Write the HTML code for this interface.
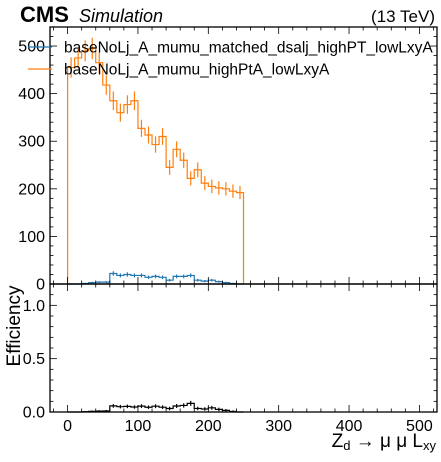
<!DOCTYPE html>
<html><head><meta charset="utf-8"><style>
html,body{margin:0;padding:0;background:#fff;}
svg{display:block;font-family:"Liberation Sans",sans-serif;}
</style></head><body>
<svg id="c" width="441" height="462" xmlns="http://www.w3.org/2000/svg"></svg>
<script>
const binEdgesStart = 0;
const binWidth = 10;
const totalCounts = [455,475,490,495,465,418,385,360,377,385,327,313,293,310,245,283,260,222,240,212,205,202,200,195,192];
const matchedCounts = [0,0,1,3,4,4,22,18,20,18,18,14,16,14,8,16,16,18,8,6,8,5,3,1,0];
const xTicks = [0,100,200,300,400,500];
const yTopTicks = [0,100,200,300,400,500];
const yBotTicks = [0,0.5,1.0];
const yBotLabels = ["0.0","0.5","1.0"];

const NS="http://www.w3.org/2000/svg";
const svg=document.getElementById('c');
const L=50,R=437,T1=27,B1=284,B2=412;
const X=v=>L+(v+25)/550*(R-L);
const Y1=v=>B1-v/540*(B1-T1);
const Y2=v=>B2-v/1.2*(B2-B1);
function mk(tag,attrs,parent){const e=document.createElementNS(NS,tag);for(const k in attrs)e.setAttribute(k,attrs[k]);(parent||svg).appendChild(e);return e;}

function hist(vals,Y,color,name,errs){
  let d='M'+X(binEdgesStart)+','+Y(0);
  vals.forEach((v,i)=>{const x0=X(binEdgesStart+i*binWidth),x1=X(binEdgesStart+(i+1)*binWidth);d+=' L'+x0+','+Y(v)+' L'+x1+','+Y(v);});
  d+=' L'+X(binEdgesStart+vals.length*binWidth)+','+Y(0);
  const p=mk('path',{d:d,fill:'none',stroke:color,'stroke-width':1.2});
  
  
  vals.forEach((v,i)=>{
    const e=errs[i]; if(v<=0) return;
    const xc=X(binEdgesStart+(i+0.5)*binWidth);
    const l=mk('line',{x1:xc,x2:xc,y1:Y(v-e),y2:Y(v+e),stroke:color,'stroke-width':1.2});
    
    
  });
}
hist(totalCounts,Y1,'#ff7f0e','total-histogram',totalCounts.map(v=>Math.sqrt(v)));
hist(matchedCounts,Y1,'#1f77b4','matched-histogram',matchedCounts.map(v=>Math.sqrt(v)));
const eff=matchedCounts.map((m,i)=>totalCounts[i]>0?m/totalCounts[i]:0);
hist(eff,Y2,'#000','efficiency-histogram',eff.map((e,i)=>totalCounts[i]>0?Math.sqrt(e*(1-e)/totalCounts[i])+0.005:0));

[[T1,B1,'top-panel-frame'],[B1,B2,'bottom-panel-frame']].forEach(([t,b,n])=>{
  const r=mk('rect',{x:L,y:t,width:R-L,height:b-t,fill:'none',stroke:'#000','stroke-width':1.3});
  
});
for(let v=-20;v<=520;v+=20){const x=X(v);const major=v%100===0;const len=major?7:3.5;
  [[T1,1],[B1,-1],[B1,1],[B2,-1]].forEach(([y,s])=>mk('line',{x1:x,x2:x,y1:y,y2:y+s*len,stroke:'#000','stroke-width':0.8}));}
xTicks.forEach(v=>{const t=mk('text',{x:X(v),y:B2+19,'font-size':16,'text-anchor':'middle'});t.textContent=v;});
for(let v=0;v<=540;v+=20){const y=Y1(v);const major=v%100===0;const len=major?7:3.5;
  mk('line',{x1:L,x2:L+len,y1:y,y2:y,stroke:'#000','stroke-width':0.8});mk('line',{x1:R,x2:R-len,y1:y,y2:y,stroke:'#000','stroke-width':0.8});}
yTopTicks.forEach(v=>{const t=mk('text',{x:L-5,y:Y1(v)+5.5,'font-size':16,'text-anchor':'end'});t.textContent=v;});
for(let k=0;k<=12;k++){const v=k*0.1;const y=Y2(v);const major=k%5===0;const len=major?7:3.5;
  mk('line',{x1:L,x2:L+len,y1:y,y2:y,stroke:'#000','stroke-width':0.8});mk('line',{x1:R,x2:R-len,y1:y,y2:y,stroke:'#000','stroke-width':0.8});}
yBotTicks.forEach((v,i)=>{const t=mk('text',{x:L-5,y:Y2(v)+5.5,'font-size':16,'text-anchor':'end'});t.textContent=yBotLabels[i];});
</script>
<svg width="441" height="462" style="position:absolute;left:0;top:0" xmlns="http://www.w3.org/2000/svg">
<text x="20" y="22" font-family="Liberation Sans,sans-serif" font-size="22" font-weight="bold">CMS</text>
<text x="79" y="22" font-family="Liberation Sans,sans-serif" font-size="18" font-style="italic">Simulation</text>
<text x="435" y="22" font-family="Liberation Sans,sans-serif" font-size="17" text-anchor="end">(13 TeV)</text>
<line x1="28" x2="52" y1="47" y2="47" stroke="#1f77b4" stroke-width="1.3"/>
<text x="64" y="52.5" font-family="Liberation Sans,sans-serif" font-size="15.5">baseNoLj_A_mumu_matched_dsalj_highPT_lowLxyA</text>
<line x1="28" x2="52" y1="69" y2="69" stroke="#ff7f0e" stroke-width="1.3"/>
<text x="64" y="74.5" font-family="Liberation Sans,sans-serif" font-size="15.5">baseNoLj_A_mumu_highPtA_lowLxyA</text>
<text transform="translate(20,326) rotate(-90)" font-family="Liberation Sans,sans-serif" font-size="19" text-anchor="middle">Efficiency</text>
<text x="436" y="447" font-family="Liberation Sans,sans-serif" font-size="19" text-anchor="end">Z<tspan font-size="13" dy="3">d</tspan><tspan dy="-3"> → μ μ L</tspan><tspan font-size="13" dy="3">xy</tspan></text>
</svg>
</body></html>
